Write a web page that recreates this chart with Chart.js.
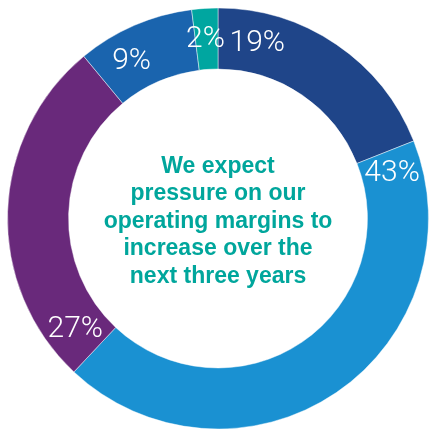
<!DOCTYPE html>
<html>
<head>
<meta charset="utf-8">
<script src="https://cdn.jsdelivr.net/npm/chart.js@4/dist/chart.umd.min.js"></script>
<style>
  html, body { margin: 0; padding: 0; background: #fff; }
  #wrap { width: 429px; height: 430px; }
</style>
</head>
<body>
<div id="wrap"><canvas id="donut"></canvas></div>
<script>
const categories = ['A', 'B', 'C', 'D', 'E'];
const shares = [19, 43, 27, 9, 2];
const valueLabels = ['19%', '43%', '27%', '9%', '2%'];
const centerLines = ['We expect', 'pressure on our', 'operating margins to', 'increase over the', 'next three years'];

const colors = ['#1f4589', '#1a91d2', '#69297b', '#1a64ae', '#00a6a0'];

// degrees past each slice's start where its label sits
const labelOffsets = [12.6, 6.9, 9.3, 10.9, 3.2];

const sliceLabels = {
  id: 'sliceLabels',
  afterDatasetsDraw(chart) {
    const ctx = chart.ctx;
    const arcs = chart.getDatasetMeta(0).data;
    ctx.save();
    ctx.fillStyle = '#fff';
    ctx.font = '300 30px Roboto';
    ctx.textAlign = 'center';
    ctx.textBaseline = 'middle';
    arcs.forEach((arc, i) => {
      const p = arc.getProps(['x', 'y', 'startAngle', 'innerRadius', 'outerRadius'], true);
      const a = p.startAngle + labelOffsets[i] * Math.PI / 180;
      const r = (p.innerRadius + p.outerRadius) / 2;
      ctx.fillText(valueLabels[i], p.x + Math.cos(a) * r, p.y + Math.sin(a) * r + 1);
    });
    ctx.restore();
  }
};

const centerText = {
  id: 'centerText',
  afterDraw(chart) {
    const ctx = chart.ctx;
    const arc = chart.getDatasetMeta(0).data[0];
    const lineH = 27.5;
    ctx.save();
    ctx.fillStyle = '#00a69c';
    ctx.font = 'bold 23px "Liberation Sans"';
    ctx.textAlign = 'center';
    ctx.textBaseline = 'middle';
    const top = arc.y + 3 - lineH * (centerLines.length - 1) / 2;
    centerLines.forEach((line, i) => {
      ctx.fillText(line, arc.x, top + i * lineH);
    });
    ctx.restore();
  }
};

new Chart(document.getElementById('donut'), {
  type: 'doughnut',
  data: {
    labels: categories,
    datasets: [{
      data: shares,
      backgroundColor: colors,
      borderColor: 'rgba(255,255,255,0.45)',
      borderWidth: 1
    }]
  },
  options: {
    responsive: true,
    maintainAspectRatio: false,
    animation: false,
    cutout: '71%',
    layout: { padding: { left: 7, top: 7, right: 0, bottom: 0 } },
    plugins: {
      legend: { display: false },
      tooltip: { enabled: false }
    }
  },
  plugins: [sliceLabels, centerText]
});
</script>
</body>
</html>
